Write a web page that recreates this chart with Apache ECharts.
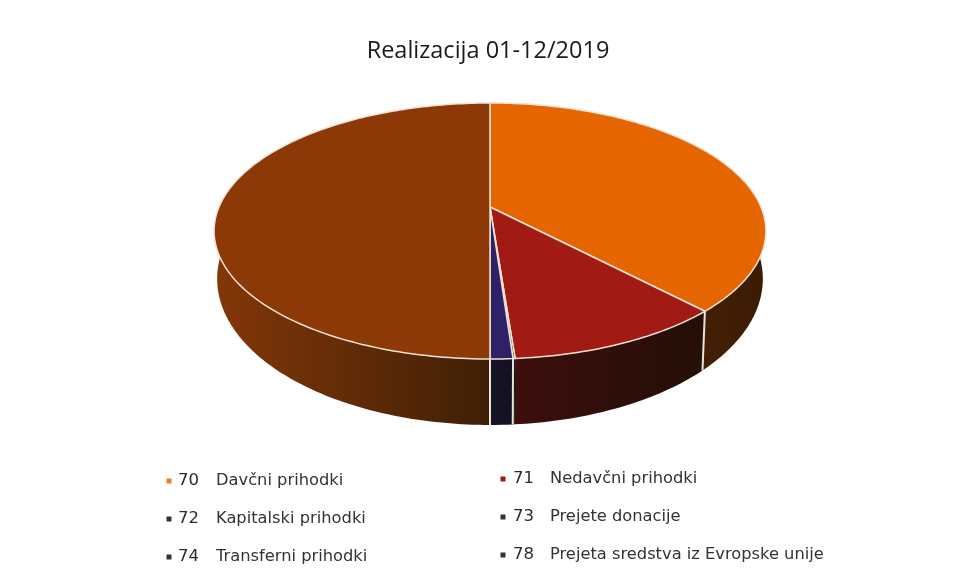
<!DOCTYPE html>
<html>
<head>
<meta charset="utf-8">
<script src="https://cdn.jsdelivr.net/npm/echarts@6/dist/echarts.min.js"></script>
<style>
html, body { margin: 0; padding: 0; background: #fff; }
#main { width: 955px; height: 582px; }
</style>
</head>
<body>
<div id="main"></div>
<script>
var title = 'Realizacija 01-12/2019';
// order on the pie, clockwise from 12 o'clock (percent)
var codes = ['70', '71', '72', '73', '74', '78'];
var names = ['Davčni prihodki', 'Nedavčni prihodki', 'Kapitalski prihodki', 'Prejete donacije', 'Transferni prihodki', 'Prejeta sredstva iz Evropske unije'];
var shares = [38.0, 10.8, 0.1, 1.1, 50.0, 0];
var topColors = ['#e56500', '#a11a14', '#1f3a2c', '#2e2167', '#8c3807', '#333333'];
var sideColors = [
	['#5c2d05', '#3c1b04'],
	['#3c0e0c', '#240f07'],
	['#10180f', '#10180f'],
	['#16132a', '#131020'],
	['#843708', '#3e1f06'],
	['#222222', '#222222']
];
var markerColors = ['#ee7d1e', '#a11a14', '#333333', '#333333', '#333333', '#333333'];

// perspective disc: top face and bottom face of the cylinder
var cx = 490, tilt = 0.1875;
var topFace = { rx: 271, a: 207, b: 123.5 };
var botFace = { rx: 268, a: 251.4, b: 141 };

var bounds = [0];
shares.forEach(function (s, i) { bounds.push(bounds[i] + s); });
var total = bounds[bounds.length - 1];

function project(face, deg) {
	var t = deg * Math.PI / 180;
	var u = Math.sin(t), v = -Math.cos(t);
	var w = 1 - tilt * v;
	return [cx + face.rx * u / w, face.a + face.b * v / w];
}
function arc(face, from, to) {
	var pts = [], n = Math.max(2, Math.ceil(Math.abs(to - from)));
	for (var i = 0; i <= n; i++) {
		pts.push(project(face, from + (to - from) * i / n));
	}
	return pts;
}
function sliceAngles(i) {
	return [bounds[i] / total * 360, bounds[i + 1] / total * 360];
}

function renderSide(params, api) {
	var i = api.value(0), ang = sliceAngles(i);
	if (ang[1] - ang[0] <= 0) return { type: 'group', children: [] };
	var upper = arc(topFace, ang[0], ang[1]);
	var lower = arc(botFace, ang[1], ang[0]);
	var xs = upper.map(function (p) { return p[0]; });
	var children = [{
		type: 'polygon',
		shape: { points: upper.concat(lower) },
		style: {
			fill: new echarts.graphic.LinearGradient(Math.min.apply(null, xs), 0, Math.max.apply(null, xs) + 1, 0, [
				{ offset: 0, color: sideColors[i][0] },
				{ offset: 1, color: sideColors[i][1] }
			], true)
		}
	}];
	// separator on the visible front wall, slivers get none
	if (Math.cos(ang[0] * Math.PI / 180) < -0.2 && ang[1] - ang[0] > 1) {
		children.push({
			type: 'line',
			shape: {
				x1: project(topFace, ang[0])[0], y1: project(topFace, ang[0])[1],
				x2: project(botFace, ang[0])[0], y2: project(botFace, ang[0])[1]
			},
			style: { stroke: '#e6e2de', lineWidth: 2 },
			z2: 5
		});
	}
	return { type: 'group', children: children };
}

function renderTop(params, api) {
	var i = api.value(0), ang = sliceAngles(i);
	if (ang[1] - ang[0] <= 0) return { type: 'group', children: [] };
	var pts = [[cx, topFace.a]].concat(arc(topFace, ang[0], ang[1]));
	return {
		type: 'polygon',
		shape: { points: pts },
		style: { fill: topColors[i], stroke: '#f0e2d4', lineWidth: 1.5, lineJoin: 'round' }
	};
}

// legend, two columns
var legendCols = [
	{ marker: 169, code: 178, label: 216, rows: [481, 519, 557] },
	{ marker: 503, code: 513, label: 550, rows: [479, 517, 555] }
];
var legendItems = [];
codes.forEach(function (code, i) {
	var col = legendCols[i % 2], y = col.rows[Math.floor(i / 2)];
	legendItems.push({
		type: 'rect',
		shape: { x: col.marker - 2.5, y: y - 2.5, width: 5, height: 5 },
		style: { fill: markerColors[i] }
	});
	legendItems.push({
		type: 'text', x: col.code, y: y,
		style: { text: code, fill: '#2b2b2b', font: '16.5px "DejaVu Sans"', verticalAlign: 'middle' }
	});
	legendItems.push({
		type: 'text', x: col.label, y: y,
		style: { text: names[i], fill: '#333333', font: '16.3px "DejaVu Sans"', verticalAlign: 'middle' }
	});
});

var indexRows = codes.map(function (c, i) { return [i]; });
var chart = echarts.init(document.getElementById('main'), null, { renderer: 'canvas' });
chart.setOption({
	animation: false,
	backgroundColor: '#ffffff',
	title: {
		text: title, left: 483, top: 34, textAlign: 'center',
		textStyle: { fontFamily: 'Open Sans', fontSize: 23.5, fontWeight: 'normal', color: '#1a1a1a' }
	},
	graphic: legendItems,
	series: [
		{ type: 'custom', coordinateSystem: 'none', silent: true, z: 1, data: indexRows, renderItem: renderSide },
		{ type: 'custom', coordinateSystem: 'none', silent: true, z: 2, data: indexRows, renderItem: renderTop }
	]
});
</script>
</body>
</html>
